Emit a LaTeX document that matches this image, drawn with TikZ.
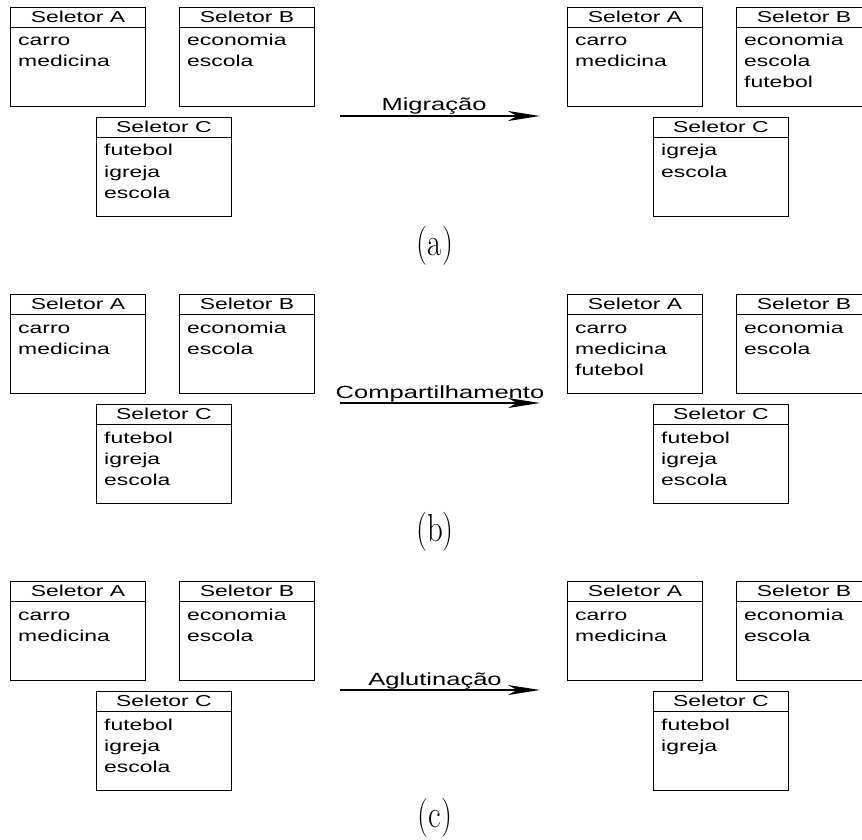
\documentclass[tikz,border=0pt]{standalone}
\usepackage{fontspec}
\usepackage{graphicx}
\newfontfamily\boxfont[FakeStretch=1.45]{Liberation Sans}
\usetikzlibrary{calc,arrows.meta}
\tikzset{
  selbox/.style={draw, line width=0.9pt, minimum width=135pt, minimum height=99pt, anchor=north west, inner sep=0pt},
  seltitle/.style={anchor=base, inner sep=0pt, font=\boxfont\fontsize{15.8}{18}\selectfont},
  selitem/.style={anchor=base west, inner sep=0pt, font=\boxfont\fontsize{15.8}{18}\selectfont},
  arrowlabel/.style={anchor=base, inner sep=0pt, font=\boxfont\fontsize{17.6}{20}\selectfont},
  bigarrow/.style={line width=1.5pt, -{Stealth[length=32pt, width=10pt, inset=9pt]}},
  caption/.style={inner sep=0pt, font=\fontsize{30}{34}\selectfont}
}
\newcommand\captxt[1]{\scalebox{1.03}[1.3]{#1}}
\newcommand\selboxdraw[5]{%
  \node[selbox] (#1) at (#2,#3) {};
  \draw[line width=0.8pt] ($(#1.north west)+(0,20)$) coordinate (#1-h) -- (#1-h -| #1.east);
  \node[seltitle] (#1-t) at ($(#1.north)+(0,15.5)$) {#4};
  \foreach \itm [count=\k] in {#5} {
    \node[selitem] (#1-\k) at ($(#1.north west)+(8,18+21*\k)$) {\itm};
  }
}
\begin{document}
\begin{tikzpicture}[x=1pt, y=-1pt]
\useasboundingbox (0,0) rectangle (862,840);
\clip (0,0) rectangle (862,840);
% ---- row a ----
\selboxdraw{aLA}{10}{7}{Seletor A}{carro,medicina}
\selboxdraw{aLB}{179}{7}{Seletor B}{economia,escola}
\selboxdraw{aLC}{96}{117}{Seletor C}{futebol,igreja,escola}
\selboxdraw{aRA}{567}{7}{Seletor A}{carro,medicina}
\selboxdraw{aRB}{736}{7}{Seletor B}{economia,escola,futebol}
\selboxdraw{aRC}{653}{117}{Seletor C}{igreja,escola}
\coordinate (aS) at (340,116);
\coordinate (aE) at (540,116);
\draw[bigarrow] (aS) -- (aE);
\node[arrowlabel] (aL) at (434,111) {Migração};
\node[caption] (aCap) at (435,246) {\captxt{(a)}};
% ---- row b ----
\selboxdraw{bLA}{10}{294}{Seletor A}{carro,medicina}
\selboxdraw{bLB}{179}{294}{Seletor B}{economia,escola}
\selboxdraw{bLC}{96}{404}{Seletor C}{futebol,igreja,escola}
\selboxdraw{bRA}{567}{294}{Seletor A}{carro,medicina,futebol}
\selboxdraw{bRB}{736}{294}{Seletor B}{economia,escola}
\selboxdraw{bRC}{653}{404}{Seletor C}{futebol,igreja,escola}
\coordinate (bS) at (340,403);
\coordinate (bE) at (540,403);
\draw[bigarrow] (bS) -- (bE);
\node[arrowlabel] (bL) at (440,398) {Compartilhamento};
\node[caption] (bCap) at (435,532) {\captxt{(b)}};
% ---- row c ----
\selboxdraw{cLA}{10}{581}{Seletor A}{carro,medicina}
\selboxdraw{cLB}{179}{581}{Seletor B}{economia,escola}
\selboxdraw{cLC}{96}{691}{Seletor C}{futebol,igreja,escola}
\selboxdraw{cRA}{567}{581}{Seletor A}{carro,medicina}
\selboxdraw{cRB}{736}{581}{Seletor B}{economia,escola}
\selboxdraw{cRC}{653}{691}{Seletor C}{futebol,igreja}
\coordinate (cS) at (340,690);
\coordinate (cE) at (540,690);
\draw[bigarrow] (cS) -- (cE);
\node[arrowlabel] (cL) at (435,685) {Aglutinação};
\node[caption] (cCap) at (435,818) {\captxt{(c)}};
\end{tikzpicture}
\end{document}
